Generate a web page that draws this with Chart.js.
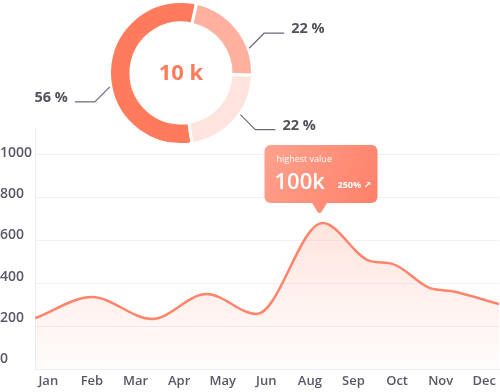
<!DOCTYPE html>
<html>
<head>
<meta charset="utf-8">
<script src="https://cdn.jsdelivr.net/npm/chart.js@4.4.0/dist/chart.umd.min.js"></script>
<style>
  html, body { margin: 0; padding: 0; background: #fff; }
  #wrap { position: relative; width: 500px; height: 392px; overflow: hidden; }
  #lineChart, #donutChart { position: absolute; left: 0; top: 0; }
</style>
</head>
<body>
<div id="wrap">
  <canvas id="lineChart" width="500" height="392"></canvas>
  <canvas id="donutChart" width="340" height="150"></canvas>
</div>
<script>
// x axis categories (the original skips Jul)
const months = ['Jan', 'Feb', 'Mar', 'Apr', 'May', 'Jun', 'Aug', 'Sep', 'Oct', 'Nov', 'Dec'];
// trend line: x in month-label units, y values
const trendX = [-0.3, 1.0, 2.38, 3.63, 4.78, 6.29, 7.37, 7.89, 8.74, 9.24, 10.34];
const trendY = [238, 336, 234, 350, 257, 682, 505, 491, 379, 364, 304];
const yTicks = [0, 200, 400, 600, 800, 1000];

// donut
const shareLabels = ['56 %', '22 %', '22 %'];
const shareValues = [56, 22, 22];
const centerText = '10 k';

// peak callout
const peakTitle = 'highest value';
const peakValue = '100k';
const peakChange = '250% ↗';

const FONT = '"Open Sans", "DejaVu Sans", sans-serif';
const TICK_COLOR = '#585869';
const CORAL = '#ff7b5c';

// callout box above the highest point
const peakBox = {
  id: 'peakBox',
  afterDatasetsDraw(chart) {
    const ctx = chart.ctx;
    const data = chart.data.datasets[0].data;
    let idx = 0;
    data.forEach((d, i) => { if (d.y > data[idx].y) idx = i; });
    const pt = chart.getDatasetMeta(0).data[idx];
    const tipX = pt.x - 3, tipY = pt.y - 10;
    const w = 113, h = 58, r = 6;
    const left = tipX - 55, top = tipY - 10 - h;

    ctx.save();
    const g = ctx.createLinearGradient(left, top, left + w, top + h);
    g.addColorStop(0, '#ffa28e');
    g.addColorStop(1, '#ff8068');
    ctx.fillStyle = g;
    ctx.beginPath();
    ctx.roundRect(left, top, w, h, r);
    ctx.fill();
    ctx.beginPath();
    ctx.moveTo(tipX - 8, top + h - 1);
    ctx.lineTo(tipX - 2, tipY - 1);
    ctx.quadraticCurveTo(tipX, tipY + 1, tipX + 2, tipY - 1);
    ctx.lineTo(tipX + 8, top + h - 1);
    ctx.closePath();
    ctx.fill();

    ctx.fillStyle = '#fff';
    ctx.textBaseline = 'middle';
    ctx.textAlign = 'left';
    ctx.font = '500 9px ' + FONT;
    ctx.fillText(peakTitle, left + 12, top + 14);
    ctx.font = '600 22px ' + FONT;
    ctx.fillText(peakValue, left + 10, top + 38);
    ctx.font = '700 9px ' + FONT;
    ctx.fillText(peakChange, left + 73, top + 40);
    ctx.restore();
  }
};

const lineCtx = document.getElementById('lineChart').getContext('2d');
new Chart(lineCtx, {
  type: 'line',
  data: {
    datasets: [{
      data: trendX.map((x, i) => ({ x: x, y: trendY[i] })),
      borderColor: '#ff8469',
      borderWidth: 2.5,
      pointRadius: 0,
      cubicInterpolationMode: 'monotone',
      fill: 'origin',
      backgroundColor: (c) => {
        const a = c.chart.chartArea;
        if (!a) return 'rgba(255,132,105,0.12)';
        const g = c.chart.ctx.createLinearGradient(0, a.top + 80, 0, a.bottom);
        g.addColorStop(0, 'rgba(255,132,105,0.24)');
        g.addColorStop(1, 'rgba(255,132,105,0.02)');
        return g;
      }
    }]
  },
  options: {
    responsive: false,
    animation: false,
    events: [],
    layout: { padding: { top: 128, left: 0, right: 0, bottom: 0 } },
    plugins: { legend: { display: false }, tooltip: { enabled: false } },
    scales: {
      x: {
        type: 'linear',
        min: -0.305,
        max: 10.343,
        grid: { display: false, drawTicks: false },
        border: { color: '#eceef3' },
        afterBuildTicks: (s) => { s.ticks = months.map((m, i) => ({ value: i })); },
        afterFit: (s) => { s.height = 23; },
        ticks: {
          autoSkip: false,
          maxRotation: 0,
          padding: 4,
          color: TICK_COLOR,
          font: { family: FONT, size: 13, weight: '600' },
          callback: (v) => months[v]
        }
      },
      y: {
        min: 0,
        max: 1126,
        weight: 0,
        afterBuildTicks: (s) => { s.ticks = yTicks.map((v) => ({ value: v })); },
        afterFit: (s) => { s.width = 0; },
        ticks: { display: false },
        grid: { color: '#eff0f5', drawTicks: false },
        border: { color: '#eceef3' }
      },
      yl: {
        position: 'left',
        min: -48.5,
        max: 1121,
        weight: 1,
        afterBuildTicks: (s) => { s.ticks = yTicks.map((v) => ({ value: v })); },
        afterFit: (s) => { s.width = 35; },
        grid: { display: false, drawTicks: false },
        border: { display: false },
        ticks: {
          crossAlign: 'far',
          padding: 0,
          color: TICK_COLOR,
          font: { family: FONT, size: 14, weight: '600' },
          callback: (v) => String(v)
        }
      }
    }
  },
  plugins: [peakBox]
});

// center text and leader lines for the donut
const donutText = {
  id: 'donutText',
  afterDraw(chart, args, opts) {
    const ctx = chart.ctx;
    const arc = chart.getDatasetMeta(0).data[0];
    const cx = arc.x, cy = arc.y, r = arc.outerRadius + 1;
    ctx.save();
    ctx.fillStyle = CORAL;
    ctx.font = '700 22px ' + FONT;
    ctx.textAlign = 'center';
    ctx.textBaseline = 'middle';
    ctx.fillText(centerText, cx, cy + 1);

    ctx.strokeStyle = '#6c6c7c';
    ctx.lineWidth = 1.2;
    ctx.fillStyle = '#52525f';
    ctx.font = '700 14.5px ' + FONT;
    opts.angles.forEach((deg, i) => {
      const a = deg * Math.PI / 180;
      const sx = cx + r * Math.sin(a), sy = cy - r * Math.cos(a);
      const dx = Math.sign(Math.sin(a)), dy = Math.sign(-Math.cos(a));
      const ex = sx + dx * 15, ey = sy + dy * 15;
      const hx = ex + dx * 20;
      ctx.beginPath();
      ctx.moveTo(sx, sy);
      ctx.lineTo(ex, ey);
      ctx.lineTo(hx, ey);
      ctx.stroke();
      ctx.textAlign = dx > 0 ? 'left' : 'right';
      ctx.fillText(shareLabels[i], hx + dx * 7, ey - 4);
    });
    ctx.restore();
  }
};

const donutCtx = document.getElementById('donutChart').getContext('2d');
new Chart(donutCtx, {
  type: 'doughnut',
  data: {
    labels: shareLabels,
    datasets: [{
      data: shareValues,
      backgroundColor: ['#ff7b5c', '#ffb09e', '#ffe4dd'],
      borderColor: '#fff',
      borderWidth: 3,
      hoverOffset: 0
    }]
  },
  options: {
    responsive: false,
    animation: false,
    events: [],
    cutout: '70%',
    rotation: 171,
    layout: { padding: { left: 108, right: 86, top: 0, bottom: 4 } },
    plugins: {
      legend: { display: false },
      tooltip: { enabled: false },
      donutText: { angles: [259, 70, 125] }
    }
  },
  plugins: [donutText]
});
</script>
</body>
</html>
